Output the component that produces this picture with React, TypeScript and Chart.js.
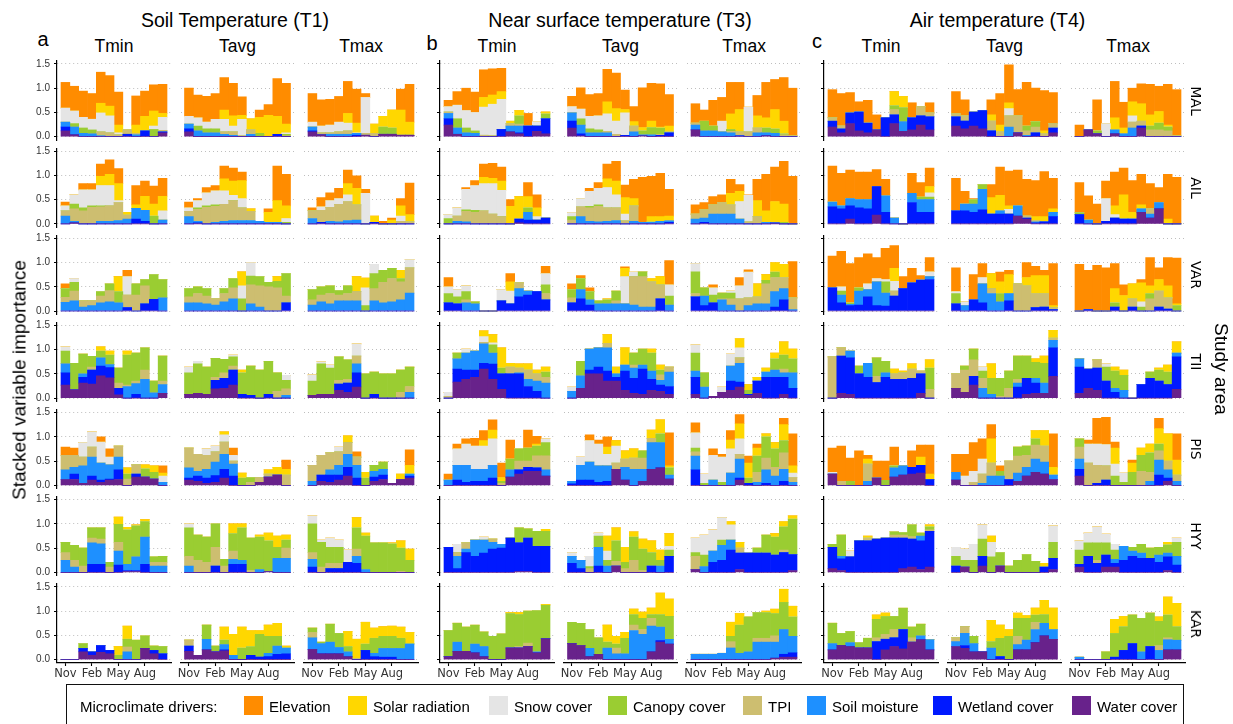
import React, { useEffect, useRef } from 'react';
import { Chart, registerables } from 'chart.js';

Chart.register(...registerables);

// ---------- labels ----------
const DRIVERS = ['Water cover', 'Wetland cover', 'Soil moisture', 'TPI', 'Canopy cover', 'Snow cover', 'Solar radiation', 'Elevation'];
const COLORS = ['#68228B', '#0019FF', '#1E90FF', '#CDBE70', '#9ACD32', '#E5E5E5', '#FFD700', '#FF8C00'];
const MONTHS = ['Nov', 'Dec', 'Jan', 'Feb', 'Mar', 'Apr', 'May', 'Jun', 'Jul', 'Aug', 'Sep', 'Oct'];
const X_TICK_MONTHS = ['Nov', 'Feb', 'May', 'Aug'];
const Y_TICKS = [0, 0.5, 1, 1.5];
const AREAS = ['MAL', 'AIL', 'VAR', 'TII', 'PIS', 'HYY', 'KAR'];
const SENSORS = ['Soil Temperature (T1)', 'Near surface temperature (T3)', 'Air temperature (T4)'];
const PANEL_LETTERS = ['a', 'b', 'c'];
const STATS = ['Tmin', 'Tavg', 'Tmax'];

// ---------- data: 12 months (Nov..Oct), each [water, wetland, soil moisture, TPI, canopy, snow, solar, elevation] in 1/100 ----------
const MAL_T1_Tmin = [[12,8,10,0,0,29,0,53],[4,0,16,0,7,26,0,51],[0,0,7,0,11,22,0,54],[0,0,6,0,8,22,0,53],[0,0,2,8,0,39,20,64],[0,0,0,8,0,35,20,63],[0,0,0,4,0,4,16,68],[0,5,0,9,0,0,0,0],[0,0,4,3,0,0,17,60],[0,12,0,0,0,0,30,52],[0,0,0,0,15,7,31,54],[8,2,0,3,0,27,8,60]];
const MAL_T1_Tavg = [[10,6,10,0,0,16,0,58],[0,0,12,0,10,17,0,47],[0,0,8,0,8,14,0,53],[0,0,8,0,8,20,0,53],[0,0,5,5,0,26,19,67],[0,0,3,7,0,12,21,67],[0,0,0,2,0,34,8,38],[0,0,5,9,0,0,23,0],[0,0,0,0,7,0,33,15],[0,0,0,0,0,0,44,22],[0,5,0,0,0,0,37,78],[0,0,0,2,3,3,18,84]];
const MAL_T1_Tmax = [[10,2,8,0,0,10,0,59],[4,0,0,4,0,14,0,54],[0,0,5,3,0,16,0,53],[0,0,5,5,0,20,0,53],[0,0,5,7,0,16,20,66],[0,3,4,0,0,1,20,70],[3,0,0,4,0,74,0,8],[0,0,0,7,0,0,19,0],[5,0,0,0,15,0,22,0],[5,0,0,0,13,0,37,0],[3,0,0,0,0,0,52,43],[3,0,0,0,0,0,27,78]];
const MAL_T3_Tmin = [[24,13,11,3,0,11,0,13],[5,0,13,0,19,28,0,28],[0,0,8,0,10,36,0,46],[0,0,7,0,5,38,0,42],[0,0,0,3,0,58,20,57],[0,0,0,2,0,65,19,54],[0,15,0,0,0,62,16,48],[10,0,12,5,0,0,5,0],[6,2,14,4,17,0,11,0],[0,22,0,0,0,0,0,26],[11,11,0,0,0,9,0,0],[6,31,0,0,10,0,4,0]];
const MAL_T3_Tavg = [[18,14,17,0,0,13,0,21],[2,4,18,0,13,20,0,44],[0,0,8,0,8,26,0,45],[0,0,8,0,6,29,0,46],[0,0,8,3,0,36,25,67],[0,0,0,5,0,27,26,73],[0,3,0,0,0,46,7,40],[0,0,10,12,0,0,9,31],[2,0,2,0,8,0,7,82],[0,0,4,0,15,0,13,78],[0,3,0,2,13,0,2,89],[0,8,0,2,0,0,12,65]];
const MAL_T3_Tmax = [[14,0,10,4,0,0,0,40],[0,0,12,0,20,0,0,23],[0,0,12,0,10,0,0,53],[0,0,10,0,0,22,0,49],[0,0,8,3,4,0,32,65],[0,2,0,8,0,0,46,56],[0,0,0,10,0,51,0,0],[0,0,8,10,0,0,25,42],[2,0,6,0,10,0,21,73],[0,0,7,0,9,0,40,62],[0,0,0,4,2,0,26,90],[0,0,0,2,0,0,0,98]];
const MAL_T4_Tmin = [[20,12,0,7,0,0,0,58],[8,8,0,6,0,0,0,67],[27,22,0,0,0,0,0,42],[12,39,0,0,0,0,0,21],[8,20,0,0,0,0,0,47],[14,0,0,0,0,0,0,31],[0,39,0,0,0,0,0,0],[27,18,0,11,8,0,29,0],[11,0,20,0,29,0,23,0],[14,25,0,0,0,0,0,31],[24,19,0,19,0,0,0,0],[14,27,0,8,0,0,0,21]];
const MAL_T4_Tavg = [[22,19,0,6,0,0,0,46],[16,16,0,11,0,0,0,33],[22,29,0,0,0,0,0,0],[16,38,0,0,0,0,0,0],[0,12,0,20,0,0,13,31],[0,0,0,10,0,0,14,65],[0,0,20,23,0,15,12,78],[8,0,0,35,0,0,0,54],[0,0,3,9,10,0,0,90],[0,8,0,12,11,0,0,69],[0,0,0,6,0,0,6,83],[8,10,0,9,0,0,0,64]];
const MAL_T4_Tmax = [[0,0,0,0,0,0,0,24],[14,0,0,0,0,0,0,0],[6,0,0,0,6,0,0,64],[0,0,0,0,0,27,0,0],[6,0,8,0,0,0,25,75],[0,0,6,0,0,0,12,53],[0,0,18,12,0,13,29,28],[18,4,0,10,0,0,36,41],[0,0,0,14,8,0,23,63],[0,0,0,14,14,0,24,52],[0,0,0,12,8,0,4,84],[0,0,0,2,0,0,0,95]];

const AIL_T1_Tmin = [[0,0,16,11,0,10,0,8],[2,0,3,26,10,19,0,0],[0,0,0,27,6,37,0,13],[0,0,0,34,3,33,0,13],[0,0,5,30,2,42,19,25],[0,0,5,32,0,42,23,30],[0,0,7,37,0,4,35,31],[0,0,10,8,0,0,6,0],[0,10,22,0,0,0,7,40],[0,5,23,0,0,0,29,31],[0,0,0,0,16,0,25,37],[0,0,8,0,0,19,30,37]];
const AIL_T1_Tavg = [[0,0,15,11,0,7,0,12],[0,2,3,25,3,15,0,4],[0,0,0,34,3,27,0,11],[0,0,3,33,3,29,0,11],[0,0,5,35,0,28,25,26],[0,0,7,41,0,11,29,27],[0,0,7,26,0,19,37,18],[0,0,7,19,0,0,5,0],[0,0,5,0,0,0,0,0],[0,0,3,0,0,0,21,7],[0,0,3,0,0,0,45,71],[0,0,0,0,3,8,26,65]];
const AIL_T1_Tmax = [[0,0,11,16,0,0,0,6],[0,3,0,25,0,7,0,19],[0,0,5,29,0,14,0,16],[0,0,4,36,0,12,0,21],[0,0,7,39,0,14,23,28],[0,0,8,31,0,0,34,26],[0,0,0,0,0,63,0,8],[0,3,0,0,0,0,13,0],[0,0,0,0,0,0,0,5],[0,0,0,0,0,0,8,4],[0,0,0,5,0,11,21,15],[0,0,0,4,0,0,15,65]];
const AIL_T3_Tmin = [[0,0,0,0,11,8,0,0],[0,0,5,11,0,17,0,0],[0,0,4,22,3,42,0,4],[0,0,0,24,4,51,0,10],[0,0,0,27,0,56,13,27],[0,0,0,20,0,63,11,31],[0,0,0,15,0,54,19,29],[0,0,0,0,0,0,36,14],[2,8,0,0,0,0,46,0],[0,8,16,0,9,0,23,29],[0,8,0,0,0,7,18,27],[0,12,0,0,0,0,0,0]];
const AIL_T3_Tavg = [[0,0,0,8,7,8,0,0],[0,0,15,20,0,17,0,0],[0,0,5,28,3,31,0,6],[0,0,4,32,3,34,0,12],[0,0,5,28,0,42,18,30],[0,0,7,26,0,27,28,41],[0,0,0,6,0,14,34,26],[0,0,5,32,0,0,15,40],[0,0,3,0,0,0,0,93],[0,0,3,0,1,0,11,83],[0,0,5,0,0,0,10,89],[0,3,3,0,0,0,10,55]];
const AIL_T3_Tmax = [[0,0,10,10,0,0,0,19],[0,3,9,17,0,0,0,15],[0,0,20,19,0,0,0,17],[0,0,20,24,0,0,0,16],[0,0,20,19,0,0,24,29],[0,0,10,0,0,36,21,14],[0,0,0,4,0,55,0,1],[0,0,0,15,0,0,33,44],[0,0,3,0,0,0,24,75],[0,2,0,0,0,0,44,71],[0,0,0,0,3,0,38,88],[0,0,0,0,0,0,0,98]];
const AIL_T4_Tmin = [[0,35,10,0,0,0,0,74],[0,31,6,0,0,0,0,67],[10,27,15,0,0,0,0,59],[0,33,17,0,0,0,0,57],[0,31,19,0,0,0,0,57],[18,59,0,0,0,0,0,35],[0,24,34,0,0,0,0,34],[0,0,12,0,0,0,0,0],[0,0,0,0,0,0,0,0],[0,44,19,0,0,0,0,41],[0,24,26,0,5,0,0,30],[0,24,26,0,5,9,13,38]];
const AIL_T4_Tavg = [[0,27,0,0,0,0,0,67],[0,27,14,0,0,0,0,26],[0,24,17,0,9,0,0,2],[0,29,42,0,10,0,0,0],[0,20,0,0,0,0,34,27],[0,20,7,0,0,0,32,58],[0,20,0,0,0,10,7,72],[16,0,21,0,0,0,0,74],[10,2,0,4,0,0,0,76],[0,2,2,3,0,0,8,74],[0,4,0,0,0,0,11,93],[0,15,9,0,0,0,7,63]];
const AIL_T4_Tmax = [[0,19,0,0,4,0,0,62],[0,0,8,0,0,0,0,50],[0,0,0,0,0,0,0,41],[0,5,0,0,0,47,0,36],[0,12,0,0,0,7,18,70],[0,10,0,0,0,0,50,55],[0,10,0,0,0,0,14,65],[24,0,7,0,0,0,8,63],[12,0,8,11,0,0,0,52],[31,0,13,0,0,0,0,31],[0,0,0,0,0,0,10,92],[0,0,0,0,0,0,0,96]];

const VAR_T1_Tmin = [[0,0,18,10,18,0,0,10],[0,0,21,20,18,8,0,0],[0,0,8,13,0,0,0,0],[0,0,11,10,0,0,0,0],[0,0,17,14,9,0,0,0],[0,0,19,23,14,0,0,0],[0,0,17,0,23,0,31,0],[0,7,0,26,0,38,0,13],[0,0,0,33,23,0,0,0],[0,15,0,37,13,0,0,0],[0,24,0,0,51,0,0,0],[0,0,27,0,38,0,0,0]];
const VAR_T1_Tavg = [[0,0,17,12,17,0,0,0],[0,0,17,19,14,0,0,0],[0,0,15,16,15,0,0,0],[0,0,12,13,0,0,0,0],[0,0,19,17,10,0,0,0],[0,0,25,23,19,0,0,0],[0,0,0,0,25,27,29,0],[0,0,15,39,18,28,0,0],[0,0,8,44,19,0,0,0],[0,0,0,50,9,0,0,0],[0,0,0,48,13,0,10,0],[0,17,0,14,46,0,0,0]];
const VAR_T1_Tmax = [[0,0,12,11,21,0,0,0],[0,0,19,14,17,0,0,0],[0,0,15,21,16,0,0,0],[0,0,21,12,9,0,0,0],[0,0,21,15,16,0,0,0],[0,0,21,19,0,0,31,0],[0,0,0,0,11,37,20,0],[0,0,21,25,31,19,0,0],[0,0,17,42,25,0,0,0],[0,0,19,48,21,0,0,0],[0,0,23,37,7,0,17,0],[0,0,37,52,0,17,0,0]];
const VAR_T3_Tmin = [[0,17,0,0,19,14,0,19],[0,15,0,0,14,15,0,0],[0,0,17,6,17,12,0,0],[0,0,15,0,4,0,0,0],[0,0,0,0,0,0,0,0],[0,0,0,0,0,0,0,0],[0,21,0,0,0,23,0,0],[0,15,0,0,0,26,19,17],[0,29,17,12,0,0,0,0],[0,33,8,0,0,0,0,0],[0,40,0,0,0,0,0,0],[0,23,0,13,18,23,0,15]];
const VAR_T3_Tavg = [[0,17,0,10,17,0,0,12],[0,25,19,0,23,0,0,6],[0,12,11,0,17,0,0,8],[0,0,15,0,6,0,0,0],[0,0,15,0,8,0,2,0],[0,0,15,6,20,0,0,0],[0,0,15,0,0,56,17,3],[0,0,12,59,0,9,0,0],[0,0,8,63,10,0,0,0],[0,0,8,52,0,0,7,0],[0,25,0,29,0,0,17,0],[0,0,12,0,19,23,0,50]];
const VAR_T3_Tmax = [[0,29,0,7,45,17,0,0],[0,11,20,0,17,0,0,0],[0,17,0,0,16,15,0,6],[0,0,23,2,12,0,0,0],[0,0,12,13,12,4,0,0],[0,0,0,25,0,27,0,17],[0,0,11,16,0,53,0,5],[0,0,15,14,0,0,27,0],[0,0,15,41,7,0,12,0],[0,8,32,29,11,0,20,0],[0,23,23,23,0,0,27,0],[0,0,3,24,0,0,0,75]];
const VAR_T4_Tmin = [[0,48,0,0,0,0,0,65],[0,17,16,0,8,9,0,73],[0,11,3,0,3,0,0,81],[0,12,29,0,7,0,0,62],[0,29,15,0,0,12,0,62],[0,11,49,0,0,7,0,43],[0,10,27,0,23,5,0,64],[0,31,0,10,0,20,27,47],[0,46,0,0,0,0,0,25],[0,58,0,0,0,0,0,30],[0,64,0,0,0,0,0,9],[0,65,6,0,0,10,0,29]];
const VAR_T4_Tavg = [[0,15,0,0,21,4,0,49],[0,0,11,0,0,8,0,0],[0,23,0,0,0,0,0,52],[0,17,39,0,0,13,0,29],[0,0,36,10,0,0,31,0],[0,0,19,0,17,0,24,20],[0,21,15,0,0,0,39,9],[0,0,0,56,0,0,0,0],[0,0,0,52,0,0,17,31],[0,7,0,29,0,0,37,19],[0,8,0,28,0,0,37,11],[0,3,0,4,0,0,4,87]];
const VAR_T4_Tmax = [[0,0,0,0,0,0,0,96],[0,3,0,0,0,0,0,81],[0,0,0,0,0,0,0,94],[0,0,0,0,0,0,0,89],[0,8,0,0,9,0,29,52],[0,0,0,0,0,0,32,22],[0,8,0,17,0,0,31,0],[0,0,0,0,8,11,39,7],[0,0,0,25,11,0,16,58],[0,8,0,33,0,0,24,24],[0,4,0,23,0,0,25,58],[0,0,0,0,11,0,4,94]];

const TII_T1_Tmin = [[27,25,19,0,26,9,0,0],[17,0,0,0,55,0,0,0],[31,12,7,0,41,0,0,0],[29,29,0,6,22,0,0,0],[46,20,17,0,14,0,9,0],[42,21,6,0,20,0,8,0],[7,13,0,11,31,0,0,0],[0,0,24,3,62,0,8,0],[0,8,22,5,58,0,0,0],[0,0,39,19,46,0,0,0],[0,0,11,0,24,0,0,0],[10,0,18,7,52,0,0,0]];
const TII_T1_Tavg = [[8,0,0,0,44,12,0,0],[10,0,0,0,61,5,0,0],[8,0,0,0,56,0,0,0],[19,18,0,6,39,0,0,0],[20,21,0,11,28,0,0,0],[27,31,0,8,19,4,0,0],[0,8,0,0,44,0,6,0],[0,6,0,0,60,0,0,0],[0,0,0,0,58,0,0,0],[0,8,0,0,68,0,0,0],[0,0,0,14,38,0,0,0],[0,0,6,13,18,10,0,0]];
const TII_T1_Tmax = [[6,0,0,0,29,13,0,0],[8,0,0,0,63,4,0,0],[8,0,0,0,54,6,0,0],[16,13,0,8,48,0,0,0],[12,19,0,8,40,0,0,0],[23,29,19,16,0,25,0,0],[0,0,0,0,50,0,0,0],[0,8,0,0,46,0,0,0],[0,0,0,0,50,0,0,0],[0,0,0,0,50,0,0,0],[0,0,0,12,46,0,0,0],[0,0,12,12,40,0,0,0]];
const TII_T3_Tmin = [[0,0,0,4,0,8,0,0],[33,27,21,0,12,0,0,0],[39,19,35,0,0,8,0,0],[43,15,39,0,0,0,0,0],[60,12,40,3,0,12,12,0],[39,31,23,0,17,4,17,0],[18,32,0,0,12,0,42,0],[0,50,0,14,0,0,8,0],[0,50,2,10,0,0,9,0],[0,24,15,19,0,0,13,0],[0,14,21,15,0,0,8,0],[0,0,31,12,11,0,10,0]];
const TII_T3_Tavg = [[0,0,14,0,0,9,0,0],[20,0,26,0,30,0,0,0],[50,8,43,0,0,0,0,0],[50,14,40,0,0,0,0,0],[35,21,48,9,0,0,18,0],[35,8,7,0,0,0,14,0],[16,40,12,0,0,0,36,0],[10,31,21,6,25,0,0,0],[8,52,8,0,33,0,0,0],[16,23,17,0,37,0,8,0],[14,13,10,11,10,0,10,0],[8,16,30,10,0,0,0,0]];
const TII_T3_Tmax = [[8,35,13,0,37,17,0,0],[0,0,23,0,29,0,0,0],[4,0,0,0,0,0,0,0],[12,0,0,0,0,11,0,0],[16,19,31,0,0,25,0,0],[23,10,39,11,0,21,19,0],[6,2,0,0,8,0,12,0],[10,25,0,0,0,0,8,0],[0,43,11,0,0,0,8,0],[0,43,15,0,23,0,12,0],[8,35,9,8,29,0,27,0],[0,20,32,0,29,0,20,0]];
const TII_T4_Tmin = [[0,0,0,85,0,0,0,0],[10,77,0,17,0,0,0,0],[8,75,14,0,0,0,0,0],[0,50,0,0,16,0,0,0],[0,43,29,0,0,0,0,0],[0,32,0,13,38,0,0,0],[0,43,9,0,24,0,0,0],[0,39,0,11,0,0,10,0],[0,39,0,13,0,0,4,0],[0,41,0,19,0,0,11,0],[10,40,0,6,0,0,0,0],[0,0,0,18,44,0,17,0]];
const TII_T4_Tavg = [[20,0,0,30,0,0,0,0],[12,0,0,46,8,0,0,0],[27,18,0,34,22,0,0,0],[0,0,20,21,15,8,0,0],[0,0,8,0,33,0,30,0],[0,0,0,4,37,0,0,0],[0,0,0,20,36,0,0,0],[0,23,8,8,48,0,0,0],[8,33,0,0,46,0,0,0],[10,21,10,0,33,0,7,0],[10,0,21,0,41,0,15,0],[45,59,15,5,0,0,16,0]];
const TII_T4_Tmax = [[10,54,17,0,0,0,0,0],[20,40,0,0,0,0,0,0],[16,46,0,17,0,0,0,0],[0,35,0,0,29,7,0,0],[0,12,8,0,36,0,8,0],[0,0,16,0,31,0,11,0],[0,0,0,0,0,0,0,0],[0,28,0,0,0,0,0,0],[0,41,0,0,13,0,0,0],[0,35,0,0,23,0,4,0],[0,28,0,0,26,0,14,0],[18,67,8,0,0,0,23,0]];

const PIS_T1_Tmin = [[12,0,20,30,0,0,0,17],[12,11,14,25,0,0,0,15],[4,0,36,18,0,30,0,0],[11,8,39,21,0,31,0,0],[6,5,35,0,0,43,0,11],[11,2,29,0,0,16,0,17],[12,20,26,23,0,0,0,0],[0,0,0,13,10,0,13,0],[17,6,0,19,0,0,0,0],[17,0,0,0,17,0,8,0],[13,0,0,0,14,0,13,0],[0,0,6,0,0,13,6,15]];
const PIS_T1_Tavg = [[11,4,21,41,0,0,0,0],[8,11,10,35,0,0,0,0],[4,11,18,29,0,13,0,0],[6,14,28,21,0,12,0,0],[15,18,31,25,0,15,6,0],[0,19,25,6,0,12,0,15],[0,0,0,0,15,0,10,0],[0,0,0,6,10,0,0,0],[6,0,0,10,0,0,0,0],[17,0,0,6,0,0,9,0],[21,0,0,0,0,0,16,0],[0,0,0,21,0,0,12,19]];
const PIS_T1_Tmax = [[0,0,8,33,0,0,0,0],[8,13,0,41,0,0,0,0],[6,15,11,35,0,0,0,0],[11,10,20,28,0,10,0,0],[19,18,27,24,0,0,14,0],[0,15,26,17,0,0,0,11],[0,0,0,0,15,0,12,0],[8,9,12,0,12,0,0,0],[12,9,12,0,15,0,0,0],[4,0,0,0,0,0,0,0],[12,0,0,0,0,0,11,0],[15,4,4,0,0,0,18,32]];
const PIS_T3_Tmin = [[0,0,11,0,0,0,0,12],[0,11,30,0,0,34,0,10],[0,6,35,0,0,44,0,11],[0,8,25,0,0,48,0,16],[0,8,25,0,0,48,11,21],[0,15,26,0,0,55,18,21],[0,0,0,4,4,0,8,30],[17,0,15,0,22,0,0,39],[23,9,0,18,25,0,0,0],[29,8,0,13,27,0,0,37],[29,7,0,25,20,0,4,16],[19,0,13,29,27,8,0,0]];
const PIS_T3_Tavg = [[0,3,5,0,0,0,0,0],[0,11,30,0,0,17,0,0],[0,11,37,0,0,44,0,12],[0,6,34,0,0,45,0,8],[0,8,32,0,0,24,15,21],[33,0,0,13,0,35,11,0],[11,0,26,17,0,0,17,0],[0,0,33,23,0,0,19,0],[8,0,25,23,15,0,0,0],[33,0,55,9,0,0,17,0],[36,0,52,0,18,0,29,0],[13,0,8,0,15,0,4,68]];
const PIS_T3_Tmax = [[0,32,28,9,8,31,0,21],[0,0,0,0,4,19,0,0],[0,0,11,0,0,51,0,13],[0,0,0,0,6,52,0,6],[0,0,25,0,0,50,18,20],[11,4,39,10,0,32,31,19],[0,4,0,0,11,0,31,14],[0,0,6,21,33,0,17,8],[0,4,28,24,44,0,6,0],[0,0,19,18,38,0,13,0],[0,8,25,34,25,0,33,13],[0,0,6,10,0,9,15,66]];
const PIS_T4_Tmin = [[23,0,0,0,0,4,0,50],[0,0,0,8,0,0,0,73],[0,0,0,0,8,0,0,48],[0,0,0,0,0,0,0,71],[0,0,8,36,0,0,10,8],[15,0,0,0,0,0,0,35],[0,0,0,0,10,0,0,40],[17,0,19,0,4,0,0,39],[21,0,19,0,0,0,0,0],[23,14,0,0,0,0,0,34],[25,16,0,0,0,0,17,25],[0,12,0,0,0,0,11,60]];
const PIS_T4_Tavg = [[11,0,16,0,0,0,0,37],[0,0,0,0,0,19,0,45],[0,0,0,6,0,23,0,59],[0,0,4,19,0,31,0,42],[0,0,19,27,0,0,50,29],[0,0,19,0,10,0,0,11],[0,12,0,38,0,0,0,0],[8,0,17,35,19,0,0,0],[19,0,18,25,19,0,0,0],[27,0,27,29,13,0,17,0],[23,0,25,33,0,0,32,0],[12,0,9,0,0,0,16,69]];
const PIS_T4_Tmax = [[19,14,21,25,17,0,0,0],[0,0,0,46,0,39,0,8],[0,4,0,37,0,44,0,53],[0,11,0,29,0,44,0,56],[0,0,0,0,19,25,33,12],[0,0,0,0,6,19,0,0],[0,0,0,0,27,0,19,6],[0,0,0,29,33,0,15,0],[0,0,8,19,40,0,18,0],[0,21,31,19,14,0,32,21],[8,7,17,18,0,0,56,0],[0,0,8,13,0,0,31,54]];

const HYY_T1_Tmin = [[0,0,25,16,21,0,0,0],[0,0,11,14,31,0,0,0],[0,0,0,13,37,0,0,0],[0,17,44,10,21,0,0,0],[0,17,42,10,23,0,0,0],[0,0,0,11,10,0,0,0],[0,15,29,18,37,0,15,0],[2,2,13,0,71,0,5,0],[2,2,28,0,64,0,2,0],[0,17,56,0,32,0,4,0],[0,0,13,8,11,0,0,0],[0,0,13,8,12,0,0,0]];
const HYY_T1_Tavg = [[0,0,13,20,59,8,0,0],[0,0,0,25,52,0,0,0],[0,0,0,21,52,0,0,0],[0,13,0,39,48,0,0,0],[0,0,0,13,14,0,0,0],[0,17,10,17,36,0,20,0],[0,17,8,0,67,0,8,0],[0,0,0,4,67,0,0,0],[0,0,6,0,67,0,4,0],[2,0,0,0,63,0,16,0],[0,0,29,0,23,0,23,0],[0,0,29,21,17,0,10,0]];
const HYY_T1_Tmax = [[0,11,16,14,59,17,0,0],[0,0,0,11,51,5,0,0],[0,8,0,11,33,19,0,0],[0,8,0,11,33,15,0,0],[0,21,0,0,0,25,0,0],[0,19,14,15,44,0,21,0],[0,0,6,0,69,0,6,0],[0,0,0,0,61,0,0,0],[0,0,0,0,61,0,1,0],[0,0,0,0,59,0,2,0],[0,0,0,2,48,0,15,0],[0,0,0,0,25,0,23,0]];
const HYY_T3_Tmin = [[0,52,0,0,0,0,0,0],[0,8,25,8,0,17,0,0],[0,41,7,13,0,0,0,0],[0,33,34,0,0,0,0,0],[0,40,27,0,0,6,0,0],[0,48,14,7,0,0,0,0],[0,50,8,0,0,0,0,0],[0,71,0,0,0,0,0,0],[2,59,0,0,31,0,0,0],[2,69,0,0,19,0,0,0],[0,54,0,0,31,0,0,0],[0,54,0,0,31,0,4,0]];
const HYY_T3_Tavg = [[0,19,14,0,0,8,0,0],[0,8,17,0,0,0,0,0],[0,0,0,8,4,21,0,0],[0,13,39,0,23,6,0,0],[0,0,13,0,12,19,31,0],[13,0,0,10,42,0,27,0],[0,0,0,8,13,0,31,0],[0,0,0,25,48,0,11,0],[0,0,0,4,44,0,21,0],[0,13,0,0,28,0,24,0],[0,0,13,0,12,0,21,0],[0,33,0,0,13,8,26,0]];
const HYY_T3_Tmax = [[6,0,0,27,8,30,0,0],[0,0,12,0,24,41,0,0],[0,21,23,0,0,44,0,0],[0,25,31,0,11,46,0,0],[0,46,21,0,0,31,7,0],[6,34,0,10,0,0,12,0],[0,40,0,0,0,0,0,0],[0,40,0,0,10,0,0,0],[0,40,0,0,37,0,0,0],[0,36,0,0,37,0,7,0],[0,41,0,5,48,0,11,0],[4,33,0,0,73,0,7,0]];
const HYY_T4_Tmin = [[8,44,0,0,6,0,0,0],[4,24,5,0,44,0,0,0],[0,32,0,0,0,12,0,0],[0,65,0,0,0,0,0,0],[0,65,0,6,0,0,4,0],[0,69,0,0,0,0,0,0],[0,71,0,0,0,0,0,0],[0,71,0,6,7,0,0,0],[8,63,0,6,5,0,0,0],[11,58,0,5,24,0,0,0],[6,59,10,0,6,0,0,0],[11,74,0,3,6,0,4,0]];
const HYY_T4_Tavg = [[0,13,0,0,20,19,0,0],[11,0,0,0,14,23,0,0],[0,0,0,0,25,33,0,0],[13,20,0,0,36,29,0,0],[0,0,0,0,32,30,13,0],[13,0,0,0,28,0,0,0],[0,0,0,0,13,0,0,0],[0,0,0,0,25,0,0,0],[0,0,0,0,37,0,0,0],[0,0,0,0,23,0,0,0],[0,11,0,0,0,0,8,0],[6,23,0,0,33,34,0,0]];
const HYY_T4_Tmax = [[11,6,0,0,29,19,0,0],[0,33,0,0,28,20,0,0],[0,19,0,6,36,33,0,0],[11,25,0,0,25,18,0,0],[11,8,8,0,19,12,0,0],[0,25,29,0,0,0,0,0],[0,33,11,0,8,0,0,0],[0,29,11,0,18,0,0,0],[0,29,0,0,21,0,0,0],[0,21,15,0,16,0,0,0],[4,28,8,0,17,0,5,0],[0,15,18,0,29,9,0,0]];

const KAR_T1_Tmin = [[0,0,0,0,0,0,0,0],[0,0,0,0,0,0,0,0],[16,7,0,0,10,0,0,0],[9,7,0,0,0,0,0,0],[15,14,0,0,0,0,0,0],[12,7,0,0,0,0,0,0],[0,0,0,0,9,0,18,0],[0,0,16,10,16,0,27,0],[0,0,0,0,40,0,0,0],[23,0,0,0,26,0,0,0],[12,7,0,0,9,0,0,0],[0,12,0,0,15,0,0,0]];
const KAR_T1_Tavg = [[17,11,0,12,0,0,0,0],[9,0,0,0,0,0,0,0],[20,0,22,0,29,0,0,0],[16,0,0,0,12,0,0,0],[18,2,11,0,9,0,27,0],[0,0,9,0,0,0,43,0],[0,0,0,0,24,0,43,0],[0,9,0,0,18,0,33,0],[0,5,0,0,47,0,8,0],[0,6,7,0,35,0,23,0],[0,11,17,0,20,0,27,0],[0,12,12,0,0,0,4,0]];
const KAR_T1_Tmax = [[21,0,24,11,9,0,0,0],[12,0,21,0,3,0,0,0],[12,0,24,0,37,0,0,0],[12,0,13,0,29,0,0,0],[6,0,10,0,11,0,31,0],[0,0,0,2,0,0,40,0],[0,19,0,0,13,0,45,0],[0,6,7,0,31,0,21,0],[0,5,18,0,25,0,20,0],[0,5,18,0,25,0,21,0],[0,0,23,0,21,0,23,0],[0,0,32,0,1,0,23,0]];
const KAR_T3_Tmin = [[6,0,0,0,54,0,0,0],[17,0,19,0,39,0,0,0],[17,0,0,0,50,0,0,0],[14,0,18,0,39,0,0,0],[6,0,21,0,30,0,0,0],[0,0,0,0,48,0,0,0],[0,0,0,0,53,0,0,0],[24,0,0,0,71,0,2,0],[24,0,0,3,66,0,4,0],[27,0,0,7,66,0,0,0],[14,0,2,0,85,0,0,0],[43,0,0,0,69,0,2,0]];
const KAR_T3_Tavg = [[33,0,0,0,44,0,0,0],[29,0,0,0,46,0,0,0],[6,0,17,0,39,0,0,0],[11,0,0,0,34,0,0,0],[0,0,24,0,12,0,35,0],[0,0,12,12,8,0,16,0],[0,0,12,0,32,0,12,0],[0,0,60,11,22,0,11,0],[0,0,52,10,23,0,13,0],[16,0,53,16,8,0,13,0],[36,3,28,0,26,0,44,0],[32,0,10,0,47,0,36,0]];
const KAR_T3_Tmax = [[0,0,11,0,0,0,0,0],[0,0,11,0,0,0,0,0],[0,0,11,0,0,0,0,0],[0,0,13,0,0,0,0,0],[0,0,24,13,11,0,29,0],[0,0,13,0,58,0,24,0],[0,0,16,0,72,0,0,0],[0,0,36,8,53,0,0,0],[0,0,36,8,53,0,3,0],[3,0,33,13,46,0,9,0],[5,6,51,0,56,0,27,0],[5,9,34,0,40,0,22,0]];
const KAR_T4_Tmin = [[20,0,13,0,42,0,0,0],[29,0,0,0,25,0,0,0],[27,0,8,0,23,0,0,0],[24,0,0,0,11,0,0,0],[24,0,0,0,20,0,0,0],[0,37,0,8,38,0,9,0],[20,22,0,10,37,0,7,0],[27,18,0,17,27,0,0,0],[22,40,0,0,44,0,0,0],[36,0,0,9,22,0,0,0],[41,0,8,0,24,0,0,0],[20,0,21,0,0,0,0,0]];
const KAR_T4_Tavg = [[27,0,10,8,0,0,0,0],[23,6,25,14,0,0,0,0],[16,0,17,0,15,0,0,0],[16,0,0,0,0,0,0,0],[0,0,24,0,13,0,44,0],[0,6,0,0,38,0,27,0],[0,0,0,0,48,0,14,0],[20,0,11,17,37,0,11,0],[20,0,20,0,45,0,6,0],[35,0,27,15,15,0,14,0],[49,0,26,0,18,0,29,0],[42,0,20,0,0,0,44,0]];
const KAR_T4_Tmax = [[0,0,5,0,0,0,0,0],[0,0,0,0,0,0,0,0],[0,0,0,0,0,0,0,0],[0,0,0,0,16,0,0,0],[0,5,0,0,49,0,29,0],[0,19,0,0,49,0,21,0],[0,33,0,0,59,0,0,0],[0,0,16,0,69,0,0,0],[0,27,0,0,69,0,0,0],[0,0,19,10,50,0,9,0],[20,0,21,4,47,0,37,0],[20,0,20,0,28,0,48,0]];

// rows = study areas, columns = T1 (Tmin,Tavg,Tmax), T3 (...), T4 (...)
const PANEL_TABLE = [
  [MAL_T1_Tmin, MAL_T1_Tavg, MAL_T1_Tmax, MAL_T3_Tmin, MAL_T3_Tavg, MAL_T3_Tmax, MAL_T4_Tmin, MAL_T4_Tavg, MAL_T4_Tmax],
  [AIL_T1_Tmin, AIL_T1_Tavg, AIL_T1_Tmax, AIL_T3_Tmin, AIL_T3_Tavg, AIL_T3_Tmax, AIL_T4_Tmin, AIL_T4_Tavg, AIL_T4_Tmax],
  [VAR_T1_Tmin, VAR_T1_Tavg, VAR_T1_Tmax, VAR_T3_Tmin, VAR_T3_Tavg, VAR_T3_Tmax, VAR_T4_Tmin, VAR_T4_Tavg, VAR_T4_Tmax],
  [TII_T1_Tmin, TII_T1_Tavg, TII_T1_Tmax, TII_T3_Tmin, TII_T3_Tavg, TII_T3_Tmax, TII_T4_Tmin, TII_T4_Tavg, TII_T4_Tmax],
  [PIS_T1_Tmin, PIS_T1_Tavg, PIS_T1_Tmax, PIS_T3_Tmin, PIS_T3_Tavg, PIS_T3_Tmax, PIS_T4_Tmin, PIS_T4_Tavg, PIS_T4_Tmax],
  [HYY_T1_Tmin, HYY_T1_Tavg, HYY_T1_Tmax, HYY_T3_Tmin, HYY_T3_Tavg, HYY_T3_Tmax, HYY_T4_Tmin, HYY_T4_Tavg, HYY_T4_Tmax],
  [KAR_T1_Tmin, KAR_T1_Tavg, KAR_T1_Tmax, KAR_T3_Tmin, KAR_T3_Tavg, KAR_T3_Tmax, KAR_T4_Tmin, KAR_T4_Tavg, KAR_T4_Tmax],
];

// ---------- layout ----------
const ROW0 = 136.7;        // pixel of y = 0 in first row
const ROW_STEP = 87.15;
const UNIT = 48.5;         // pixels per 1.0
const Y_MIN = -0.07;
const Y_MAX = 1.56;
const GROUP_LEFT = [57, 440, 824];
const COL_STEP = 123.5;
const PANEL_W = 114;
const X_MIN = -0.953;
const X_MAX = 11.953;
const SANS = '"Liberation Sans", Arial, sans-serif';
const DEJAVU = '"DejaVu Sans", sans-serif';
const LEGEND_X = [244, 348, 489, 608, 743, 807, 933, 1072];

function Panel({ row, col }: { row: number; col: number }) {
  const ref = useRef<HTMLCanvasElement | null>(null);
  const g = Math.floor(col / 3);
  const s = col % 3;
  const left = GROUP_LEFT[g] + s * COL_STEP;
  const top = ROW0 + ROW_STEP * row - Y_MAX * UNIT;
  const ph = (Y_MAX - Y_MIN) * UNIT;
  const canvasLeft = Math.floor(left) - 40;
  const yAxisW = left - canvasLeft;
  const canvasTop = Math.floor(top) - 14;
  const padTop = top - canvasTop;
  const cw = Math.ceil(yAxisW + PANEL_W + 8);
  const padRight = cw - yAxisW - PANEL_W;
  const ch = Math.ceil(padTop + ph + 24);
  const xAxisH = ch - padTop - ph;
  const isFirst = s === 0;
  const showYLabels = col === 0;
  const isBottom = row === AREAS.length - 1;

  useEffect(() => {
    const values = PANEL_TABLE[row][col];
    const datasets = DRIVERS.map((name, k) => ({
      label: name,
      data: values.map((bar, i) => ({ x: i, y: bar[k] / 100 })),
      backgroundColor: COLORS[k],
      borderWidth: 0,
      barPercentage: 1,
      categoryPercentage: 1,
    }));
    const chart = new Chart(ref.current as HTMLCanvasElement, {
      type: 'bar',
      data: { datasets } as any,
      options: {
        animation: false,
        responsive: false,
        devicePixelRatio: 1,
        events: [],
        layout: { padding: { top: padTop, right: padRight, bottom: 0, left: 0 } },
        plugins: { legend: { display: false }, tooltip: { enabled: false } },
        scales: {
          x: {
            type: 'linear',
            stacked: true,
            offset: false,
            min: X_MIN,
            max: X_MAX,
            afterBuildTicks: (sc: any) => { sc.ticks = X_TICK_MONTHS.map((m) => ({ value: MONTHS.indexOf(m) })); },
            afterFit: (sc: any) => { sc.height = xAxisH; },
            grid: { display: isBottom, offset: false, drawOnChartArea: false, drawTicks: true, tickLength: 3, tickColor: '#000', tickWidth: 1.1 },
            border: { display: isBottom, color: '#000', width: 1.2 },
            ticks: {
              display: isBottom, padding: 1, color: '#333', autoSkip: false, maxRotation: 0,
              font: { family: DEJAVU, size: 11.5 },
              callback: (v: any) => MONTHS[v],
            },
          },
          y: {
            stacked: true,
            min: Y_MIN,
            max: Y_MAX,
            afterBuildTicks: (sc: any) => { sc.ticks = Y_TICKS.map((v) => ({ value: v })); },
            afterFit: (sc: any) => { sc.width = yAxisW; },
            grid: { color: '#bebebe', lineWidth: 1, drawTicks: isFirst, tickLength: 3, tickColor: '#000', tickWidth: 1.1, tickBorderDash: [] },
            border: { display: isFirst, color: '#000', width: 1.2, dash: [1, 3] },
            ticks: {
              display: showYLabels, padding: 4, color: '#333',
              font: { family: SANS, size: 10 },
              callback: (v: any) => Number(v).toFixed(1),
            },
          },
        },
      } as any,
    });
    return () => chart.destroy();
  }, []);

  return (
    <canvas
      ref={ref}
      width={cw}
      height={ch}
      style={{ position: 'absolute', left: canvasLeft, top: canvasTop, width: cw, height: ch }}
    />
  );
}

function Txt({ x, y, size, children, rotate = 0, family = SANS }: any) {
  return (
    <div
      style={{
        position: 'absolute', left: x, top: y, fontSize: size, fontFamily: family, lineHeight: 1,
        whiteSpace: 'nowrap', color: '#000',
        transform: `translate(-50%, -50%) rotate(${rotate}deg)`,
      }}
    >
      {children}
    </div>
  );
}

export default function App() {
  const panels = [];
  for (let r = 0; r < AREAS.length; r++) {
    for (let c = 0; c < 9; c++) panels.push(<Panel key={`${r}-${c}`} row={r} col={c} />);
  }
  const groupTitleX = [235, 620, 997.5];
  const letterX = [43, 432, 817];
  const letterY = [38.5, 43, 41];
  const legendOrder = [7, 6, 5, 4, 3, 2, 1, 0];
  return (
    <div style={{ position: 'absolute', left: 0, top: 0, width: 1233, height: 724, overflow: 'hidden', background: '#fff' }}>
      {SENSORS.map((t, g) => (
        <Txt key={t} x={groupTitleX[g]} y={21} size={19.5}>{t}</Txt>
      ))}
      {PANEL_LETTERS.map((l, g) => (
        <Txt key={l} x={letterX[g]} y={letterY[g]} size={20}>{l}</Txt>
      ))}
      {[0, 1, 2].flatMap((g) => STATS.map((st, s) => (
        <Txt key={`${g}-${st}`} x={GROUP_LEFT[g] + s * COL_STEP + PANEL_W / 2} y={47} size={17.5}>{st}</Txt>
      )))}
      {panels}
      {AREAS.map((a, r) => (
        <Txt key={a} x={1196} y={ROW0 + ROW_STEP * r - 36} size={14} rotate={90} family={DEJAVU}>{a}</Txt>
      ))}
      <Txt x={1221} y={369} size={19} rotate={90}>Study area</Txt>
      <Txt x={19} y={380} size={19} rotate={-90}>Stacked variable importance</Txt>
      <div style={{ position: 'absolute', left: 66, top: 684, width: 1118, height: 60, border: '1.5px solid #111', boxSizing: 'border-box' }} />
      <div style={{ position: 'absolute', left: 80, top: 706, transform: 'translateY(-50%)', fontFamily: SANS, fontSize: 15, lineHeight: 1, whiteSpace: 'nowrap' }}>
        Microclimate drivers:
      </div>
      {legendOrder.map((k, i) => (
        <React.Fragment key={DRIVERS[k]}>
          <div style={{ position: 'absolute', left: LEGEND_X[i], top: 696, width: 19, height: 19, background: COLORS[k] }} />
          <div style={{ position: 'absolute', left: LEGEND_X[i] + 25, top: 706, transform: 'translateY(-50%)', fontFamily: SANS, fontSize: 15, lineHeight: 1, whiteSpace: 'nowrap' }}>
            {DRIVERS[k]}
          </div>
        </React.Fragment>
      ))}
    </div>
  );
}
